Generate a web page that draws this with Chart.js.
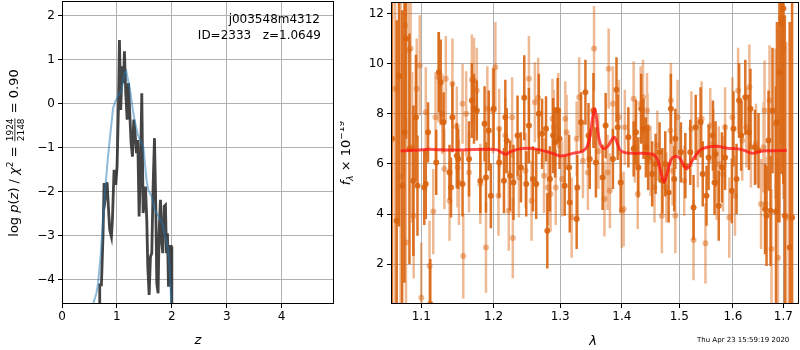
<!DOCTYPE html>
<html>
<head>
<meta charset="utf-8">
<script src="https://cdn.jsdelivr.net/npm/chart.js@4.4.1/dist/chart.umd.min.js"></script>
<style>
  html, body { margin: 0; padding: 0; background: #fff; }
  #wrap { position: relative; width: 800px; height: 350px; overflow: hidden; }
  #pz-chart { position: absolute; left: 0; top: 0; }
  #sp-chart { position: absolute; left: 340px; top: 0; }
</style>
</head>
<body>
<div id="wrap">
  <canvas id="pz-chart" width="340" height="350"></canvas>
  <canvas id="sp-chart" width="460" height="350"></canvas>
</div>
<script>
// ---- left panel: redshift probability ----
var pzZ = [0.675, 0.687, 0.718, 0.748, 0.766, 0.79, 0.821, 0.851, 0.869, 0.9,
  0.918, 0.948, 0.979, 1.003, 1.027, 1.046, 1.07, 1.094, 1.119, 1.137,
  1.161, 1.186, 1.21, 1.234, 1.258, 1.283, 1.307, 1.331, 1.356, 1.38,
  1.404, 1.428, 1.453, 1.477, 1.495, 1.52, 1.544, 1.562, 1.587, 1.611,
  1.635, 1.659, 1.684, 1.708, 1.726, 1.75, 1.768, 1.793, 1.811, 1.835,
  1.86, 1.884, 1.902, 1.92, 1.939, 1.963, 1.987, 2.0];
var pzLog = [-4.9, -4.11, -4.11, -2.94, -1.80, -2.11, -1.78, -2.48, -2.86, -3.02,
  -2.64, -1.50, -1.84, -1.42, -0.14, 1.45, -0.14, 0.85, 0.47, 1.19,
  0.24, -0.36, 0.47, -0.21, -0.89, -1.2, -0.36, -0.67, -1.12, -0.82,
  -2.56, -1.58, 0.24, -2.48, -2.3, -1.88, -2.64, -3.70, -4.34, -3.47,
  -3.39, -1.88, -0.78, -2.33, -4.08, -4.30, -2.94, -2.18, -3.09, -3.39,
  -2.33, -2.30, -3.39, -2.94, -4.15, -3.24, -3.24, -4.9];

var priorZ = [0.54, 0.565, 0.627, 0.656, 0.70, 0.75, 0.79, 0.83, 0.87, 0.93,
  0.97, 1.02, 1.08, 1.14, 1.17, 1.2, 1.23, 1.29, 1.32, 1.38,
  1.42, 1.48, 1.54, 1.57, 1.63, 1.69, 1.78, 1.84, 1.87, 1.90,
  1.93, 1.96, 1.99, 2.01];
var priorLog = [-4.9, -4.55, -4.30, -4.08, -3.5, -2.6, -1.9, -1.3, -0.8, -0.1,
  0.05, 0.17, 0.3, 0.7, 0.75, 0.55, 0.39, -0.14, -0.36, -0.7,
  -0.82, -0.97, -1.73, -1.95, -2.1, -2.41, -2.6, -2.75, -3.0, -3.09,
  -3.3, -3.7, -4.55, -4.9];

var zTicks = [0, 1, 2, 3, 4];
var pzTicks = [-4, -3, -2, -1, 0, 1, 2];

// ---- right panel: spectrum ----
var darkLam = [1.062, 1.068, 1.071, 1.075, 1.078, 1.080, 1.0845, 1.0896, 1.093, 1.095,
  1.104, 1.106, 1.109, 1.112, 1.120, 1.1235, 1.126, 1.130, 1.138, 1.140,
  1.142, 1.148, 1.150, 1.156, 1.165, 1.169, 1.172, 1.176, 1.181, 1.187,
  1.189, 1.193, 1.196, 1.200, 1.208, 1.215, 1.217, 1.219, 1.224, 1.229,
  1.235, 1.240, 1.245, 1.248, 1.252, 1.258, 1.263, 1.267, 1.272, 1.278,
  1.280, 1.284, 1.289, 1.292, 1.296, 1.299, 1.307, 1.314, 1.315, 1.326,
  1.327, 1.333, 1.340, 1.345, 1.347, 1.353, 1.357, 1.368, 1.373, 1.385,
  1.391, 1.393, 1.398, 1.411, 1.420, 1.424, 1.428, 1.433, 1.437, 1.441,
  1.445, 1.452, 1.458, 1.465, 1.470, 1.475, 1.481, 1.485, 1.491, 1.493,
  1.503, 1.511, 1.520, 1.526, 1.530, 1.539, 1.543, 1.550, 1.554, 1.562,
  1.565, 1.567, 1.573, 1.579, 1.585, 1.598, 1.601, 1.607, 1.612, 1.616,
  1.624, 1.631, 1.634, 1.643, 1.650, 1.663, 1.666, 1.670, 1.674, 1.678,
  1.685, 1.687, 1.692, 1.697, 1.700, 1.703, 1.713, 1.718];
var darkFlux = [7.0, 3.73, 9.5, 5.13, 7.26, 11.0, 6.6, 5.33, 7.86, 5.13,
  5.06, 5.2, 7.26, 0.41, 6.06, 9.66, 9.26, 7.66, 5.66, 5.06,
  7.86, 6.33, 6.2, 5.2, 6.2, 8.53, 8.2, 8.13, 5.33, 7.6,
  5.46, 7.33, 4.73, 8.2, 6.06, 5.33, 7.86, 6.93, 5.53, 5.26,
  7.13, 5.86, 8.64, 5.2, 7.53, 5.4, 5.2, 8.0, 7.2, 7.4,
  3.33, 5.4, 7.13, 6.86, 8.13, 7.0, 5.13, 5.86, 4.46, 3.8,
  5.06, 7.66, 8.86, 7.13, 6.2, 8.13, 6.06, 5.46, 7.53, 6.2,
  8.96, 7.46, 5.26, 7.06, 6.6, 7.26, 5.86, 8.2, 7.4, 6.66,
  6.26, 5.6, 6.0, 6.46, 5.33, 6.0, 4.86, 8.2, 5.4, 7.0,
  6.46, 5.93, 6.46, 4.26, 7.46, 7.66, 5.6, 4.73, 6.26, 7.13,
  5.26, 6.4, 4.33, 5.86, 6.26, 4.93, 7.4, 5.4, 8.53, 7.13,
  8.66, 7.26, 8.2, 6.66, 6.53, 4.2, 3.93, 6.93, 4.13, 8.13,
  4.1, 7.66, 9.66, 11.6, 12.2, 3.93, 2.66, 3.86];
var darkErr = [9, 8, 6, 7, 6, 4, 4.6, 3, 2.5, 2.0,
  1.5, 1.4, 1.2, 1.8, 1.3, 1.6, 1.7, 1.2, 1.1, 1.2,
  1.4, 1.3, 1.2, 1.3, 1.5, 1.5, 1.4, 1.2, 1.3, 1.5,
  1.4, 1.6, 1.3, 1.6, 1.4, 1.3, 1.5, 1.3, 1.4, 1.5,
  1.6, 1.4, 1.7, 1.3, 1.5, 1.3, 1.4, 1.6, 1.4, 1.3,
  1.5, 1.3, 1.5, 1.4, 1.3, 1.2, 1.2, 1.3, 1.2, 1.2,
  1.3, 1.2, 1.3, 1.3, 1.2, 1.5, 1.4, 1.3, 1.3, 1.2,
  1.3, 1.3, 1.2, 1.2, 1.1, 1.3, 1.2, 1.4, 1.2, 1.2,
  1.3, 1.3, 1.2, 1.2, 1.3, 1.3, 1.2, 1.4, 1.3, 1.2,
  1.2, 1.3, 1.3, 1.3, 1.3, 1.4, 1.3, 1.2, 1.3, 1.4,
  1.3, 1.3, 1.4, 1.4, 1.3, 1.3, 1.5, 1.4, 1.5, 1.4,
  1.5, 1.5, 1.6, 1.5, 1.5, 1.8, 2.0, 2.0, 2.2, 2.5,
  5, 4, 6, 6, 7, 8, 9, 9];

var lightLam = [1.066, 1.073, 1.079, 1.080, 1.0835, 1.086, 1.088, 1.090, 1.094, 1.098,
  1.100, 1.106, 1.111, 1.116, 1.119, 1.123, 1.128, 1.131, 1.133, 1.138,
  1.142, 1.148, 1.149, 1.151, 1.156, 1.157, 1.161, 1.165, 1.169, 1.172,
  1.176, 1.181, 1.189, 1.191, 1.199, 1.2025, 1.207, 1.208, 1.217, 1.222,
  1.227, 1.228, 1.237, 1.247, 1.252, 1.256, 1.261, 1.266, 1.275, 1.281,
  1.285, 1.288, 1.290, 1.293, 1.297, 1.303, 1.308, 1.310, 1.318, 1.326,
  1.330, 1.336, 1.344, 1.354, 1.361, 1.371, 1.376, 1.378, 1.380, 1.385,
  1.395, 1.400, 1.403, 1.405, 1.420, 1.422, 1.427, 1.432, 1.436, 1.443,
  1.444, 1.449, 1.456, 1.461, 1.469, 1.477, 1.484, 1.485, 1.488, 1.493,
  1.497, 1.509, 1.522, 1.526, 1.534, 1.541, 1.548, 1.557, 1.563, 1.569,
  1.573, 1.581, 1.585, 1.593, 1.599, 1.604, 1.610, 1.618, 1.626, 1.632,
  1.635, 1.645, 1.655, 1.660, 1.662, 1.664, 1.672, 1.676, 1.684, 1.689,
  1.695, 1.700, 1.706];
var lightFlux = [9.0, 5.5, 11.53, 2.86, 10.53, 10.6, 6.66, 3.93, 9.0, 9.93,
  0.66, 8.06, 1.93, 4.1, 7.86, 9.46, 8.0, 5.8, 9.4, 4.53,
  9.2, 7.49, 5.86, 5.26, 8.4, 2.33, 8.0, 5.66, 9.36, 9.33,
  8.93, 5.2, 2.66, 8.2, 8.13, 9.86, 4.73, 7.4, 7.13, 4.13,
  7.86, 3.04, 5.46, 5.73, 9.4, 4.53, 8.46, 8.64, 5.53, 5.06,
  4.8, 7.8, 7.46, 5.06, 8.13, 5.4, 7.8, 7.26, 3.86, 7.0,
  8.66, 6.13, 5.66, 10.6, 6.5, 4.6, 5.66, 9.8, 4.93, 8.4,
  7.86, 4.13, 4.2, 7.46, 8.6, 6.66, 4.8, 8.4, 8.66, 8.13,
  7.4, 6.13, 5.06, 6.73, 3.93, 5.06, 7.33, 8.53, 5.73, 3.93,
  7.86, 5.33, 7.4, 2.96, 6.46, 7.8, 2.83, 7.53, 6.8, 5.26,
  6.0, 5.6, 7.46, 3.86, 7.86, 4.73, 8.93, 6.93, 7.46, 9.06,
  6.66, 6.8, 4.4, 6.66, 8.13, 4.4, 8.53, 2.6, 7.6, 2.26,
  11.8, 10.6, 3.86];
var lightErr = [9, 8, 6, 5, 4, 4, 3, 2.5, 2.0, 2.0,
  2.2, 1.8, 1.8, 1.7, 1.8, 1.8, 1.6, 1.6, 1.7, 1.6,
  1.8, 1.6, 1.6, 1.7, 1.6, 1.7, 1.7, 1.6, 1.8, 1.7,
  1.7, 1.6, 1.8, 1.7, 1.7, 1.8, 1.6, 1.6, 1.5, 1.6,
  1.6, 1.6, 1.6, 1.5, 1.7, 1.6, 1.6, 1.6, 1.5, 1.5,
  1.5, 1.6, 1.5, 1.5, 1.5, 1.5, 1.5, 1.5, 1.6, 1.5,
  1.6, 1.5, 1.5, 1.7, 1.5, 1.5, 1.5, 1.6, 1.5, 1.5,
  1.5, 1.5, 1.5, 1.5, 1.5, 1.4, 1.4, 1.5, 1.5, 1.5,
  1.4, 1.4, 1.4, 1.4, 1.5, 1.4, 1.4, 1.5, 1.4, 1.5,
  1.5, 1.4, 1.5, 1.6, 1.4, 1.5, 1.6, 1.5, 1.4, 1.5,
  1.5, 1.5, 1.6, 1.6, 1.6, 1.6, 1.7, 1.6, 1.6, 1.7,
  1.6, 1.6, 1.8, 1.8, 2.0, 1.9, 2.2, 2.4, 3, 4,
  5, 6, 7];

var modelLam = [1.073, 1.09, 1.11, 1.13, 1.15, 1.17, 1.19, 1.205, 1.212, 1.218,
  1.224, 1.235, 1.25, 1.265, 1.28, 1.29, 1.30, 1.31, 1.32, 1.335,
  1.343, 1.348, 1.352, 1.355, 1.358, 1.362, 1.367, 1.372, 1.378, 1.384,
  1.388, 1.392, 1.397, 1.405, 1.42, 1.44, 1.455, 1.462, 1.468, 1.473,
  1.478, 1.485, 1.492, 1.50, 1.507, 1.513, 1.519, 1.527, 1.54, 1.555,
  1.57, 1.59, 1.61, 1.625, 1.632, 1.64, 1.65, 1.665, 1.68, 1.695, 1.707];
var modelFlux = [6.52, 6.54, 6.58, 6.56, 6.55, 6.57, 6.58, 6.56, 6.45, 6.38,
  6.48, 6.58, 6.62, 6.58, 6.48, 6.40, 6.32, 6.35, 6.42, 6.5,
  6.7, 7.2, 7.9, 8.2, 7.8, 7.0, 6.65, 6.62, 6.75, 7.0,
  7.06, 6.85, 6.55, 6.45, 6.42, 6.42, 6.36, 6.15, 5.6, 5.26,
  5.6, 6.15, 6.3, 6.25, 6.0, 5.8, 5.95, 6.25, 6.58, 6.68,
  6.70, 6.62, 6.60, 6.52, 6.45, 6.43, 6.48, 6.52, 6.52, 6.53, 6.53];

var lamTicks = [1.1, 1.2, 1.3, 1.4, 1.5, 1.6, 1.7];
var fluxTicks = [2, 4, 6, 8, 10, 12];

Chart.defaults.font.family = "'DejaVu Sans', sans-serif";
Chart.defaults.font.size = 12;
Chart.defaults.color = "#000";

function minusFmt(v) {
  return v < 0 ? "\u2212" + Math.abs(v) : String(v);
}

function errSegments(lam, flux, err) {
  var pts = [];
  lam.forEach(function (l, i) {
    pts.push({ x: l, y: flux[i] - err[i] });
    pts.push({ x: l, y: flux[i] + err[i] });
    pts.push({ x: l, y: null });
  });
  return pts;
}

function xy(xs, ys) {
  return xs.map(function (x, i) { return { x: x, y: ys[i] }; });
}

// keep tick labels from pushing the plot area in
function noPadX(h) {
  return function (s) { s.height = h; s.paddingLeft = 0; s.paddingRight = 0; };
}
function noPadY(w) {
  return function (s) { s.width = w; s.paddingTop = 0; s.paddingBottom = 0; };
}

// full box like matplotlib spines
const framePlugin = {
  id: "frame",
  afterDraw(chart) {
    const a = chart.chartArea, c = chart.ctx;
    c.save();
    c.strokeStyle = "#000";
    c.lineWidth = 1;
    c.strokeRect(Math.round(a.left) + 0.5, Math.round(a.top) + 0.5,
      Math.round(a.right - a.left) - 1, Math.round(a.bottom - a.top) - 1);
    c.restore();
  },
};

// draws a row of text pieces, centred on 0
function drawPieces(c, pieces) {
  var total = 0;
  pieces.forEach(function (p) {
    c.font = p.font;
    p.w = p.frac ? Math.max(c.measureText(p.top).width, c.measureText(p.bot).width) + 2 : c.measureText(p.t).width;
    total += p.w;
  });
  var x = -total / 2;
  pieces.forEach(function (p) {
    c.font = p.font;
    if (p.frac) {
      c.textAlign = "center";
      c.fillText(p.top, x + p.w / 2, -5);
      c.fillText(p.bot, x + p.w / 2, 6);
      c.fillRect(x + 1, -3.5, p.w - 2, 0.8);
      c.textAlign = "left";
    } else {
      c.fillText(p.t, x, p.dy || 0);
    }
    x += p.w;
  });
}

const pzText = {
  id: "pzText",
  afterDraw(chart) {
    const c = chart.ctx;
    const reg = "13px 'DejaVu Sans'", it = "italic 13px 'DejaVu Sans'", sm = "9px 'DejaVu Sans'";
    c.save();
    c.fillStyle = "#000";
    c.textBaseline = "alphabetic";
    c.textAlign = "right";
    c.font = "12px 'DejaVu Sans'";
    c.fillText("j003548m4312", 320, 23);
    c.fillText("ID=2333   z=1.0649", 321, 39);
    c.textAlign = "center";
    c.font = it;
    c.fillText("z", 198, 344);
    c.textAlign = "left";
    c.translate(18, 153);
    c.rotate(-Math.PI / 2);
    drawPieces(c, [
      { t: "log ", font: reg },
      { t: "p", font: it },
      { t: "(", font: reg },
      { t: "z", font: it },
      { t: ") / ", font: reg },
      { t: "\u03c7", font: it },
      { t: "2", font: sm, dy: -5 },
      { t: " = ", font: reg },
      { frac: true, top: "1924", bot: "2148", font: sm },
      { t: " = 0.90", font: reg },
    ]);
    c.restore();
  },
};

const spText = {
  id: "spText",
  afterDraw(chart) {
    const c = chart.ctx;
    const reg = "13px 'DejaVu Sans'", it = "italic 13px 'DejaVu Sans'", sm = "9px 'DejaVu Sans'", smi = "italic 9px 'DejaVu Sans'";
    c.save();
    c.fillStyle = "#000";
    c.textBaseline = "alphabetic";
    c.textAlign = "center";
    c.font = it;
    c.fillText("\u03bb", 253, 345);
    c.textAlign = "left";
    c.font = "7px 'DejaVu Sans'";
    c.fillText("Thu Apr 23 15:59:19 2020", 357, 342);
    c.translate(10, 153);
    c.rotate(-Math.PI / 2);
    drawPieces(c, [
      { t: "f", font: it },
      { t: "\u03bb", font: smi, dy: 3 },
      { t: " \u00d7 10", font: reg },
      { t: "\u221219", font: sm, dy: -6 },
    ]);
    c.restore();
  },
};

const gridStyle = { color: "#b0b0b0", lineWidth: 1, tickColor: "#000", tickLength: 4 };

new Chart(document.getElementById("pz-chart"), {
  type: "line",
  data: {
    datasets: [
      {
        label: "prior",
        data: xy(priorZ, priorLog),
        borderColor: "rgba(31,119,180,0.5)",
        borderWidth: 2,
        pointRadius: 0,
        order: 0,
      },
      {
        label: "p(z)",
        data: xy(pzZ, pzLog),
        borderColor: "rgba(35,35,35,0.85)",
        borderWidth: 2.8,
        pointRadius: 0,
        order: 1,
      },
    ],
  },
  options: {
    responsive: false,
    animation: false,
    events: [],
    layout: { autoPadding: false, padding: { top: 1, right: 6, left: 0, bottom: 0 } },
    plugins: { legend: { display: false }, tooltip: { enabled: false } },
    scales: {
      x: {
        type: "linear", min: 0, max: 4.953,
        afterBuildTicks: (s) => { s.ticks = zTicks.map((v) => ({ value: v })); },
        afterFit: noPadX(46),
        grid: gridStyle, border: { display: false },
        ticks: { padding: 2, maxRotation: 0, autoSkip: false, font: { size: 12 }, callback: minusFmt },
      },
      y: {
        type: "linear", min: -4.545, max: 2.334,
        afterBuildTicks: (s) => { s.ticks = pzTicks.map((v) => ({ value: v })); },
        afterFit: noPadY(62),
        grid: gridStyle, border: { display: false },
        ticks: { padding: 3, autoSkip: false, font: { size: 12 }, callback: minusFmt },
      },
    },
  },
  plugins: [framePlugin, pzText],
});

new Chart(document.getElementById("sp-chart"), {
  type: "line",
  data: {
    datasets: [
      {
        label: "model",
        data: xy(modelLam, modelFlux),
        borderColor: "rgba(255,20,20,0.75)",
        borderWidth: 3,
        pointRadius: 0,
        tension: 0.3,
        order: 0,
      },
      {
        label: "dark",
        data: xy(darkLam, darkFlux),
        showLine: false,
        pointRadius: 3,
        pointBackgroundColor: "rgba(217,100,15,0.9)",
        pointBorderWidth: 0,
        order: 1,
      },
      {
        label: "dark err",
        data: errSegments(darkLam, darkFlux, darkErr),
        borderColor: "rgba(217,100,15,0.9)",
        borderWidth: 2.5,
        pointRadius: 0,
        spanGaps: false,
        order: 2,
      },
      {
        label: "light",
        data: xy(lightLam, lightFlux),
        showLine: false,
        pointRadius: 3,
        pointBackgroundColor: "rgba(217,100,15,0.45)",
        pointBorderWidth: 0,
        order: 3,
      },
      {
        label: "light err",
        data: errSegments(lightLam, lightFlux, lightErr),
        borderColor: "rgba(217,100,15,0.45)",
        borderWidth: 2.5,
        pointRadius: 0,
        spanGaps: false,
        order: 4,
      },
    ],
  },
  options: {
    responsive: false,
    animation: false,
    events: [],
    layout: { autoPadding: false, padding: { top: 2, right: 1, left: 0, bottom: 0 } },
    plugins: { legend: { display: false }, tooltip: { enabled: false } },
    scales: {
      x: {
        type: "logarithmic", min: 1.0607, max: 1.7323,
        afterBuildTicks: (s) => { s.ticks = lamTicks.map((v) => ({ value: v })); },
        afterFit: noPadX(46),
        grid: gridStyle, border: { display: false },
        ticks: { padding: 2, maxRotation: 0, autoSkip: false, font: { size: 12 }, callback: (v) => Number(v).toFixed(1) },
      },
      y: {
        type: "linear", min: 0.41, max: 12.46,
        afterBuildTicks: (s) => { s.ticks = fluxTicks.map((v) => ({ value: v })); },
        afterFit: noPadY(51),
        grid: gridStyle, border: { display: false },
        ticks: { padding: 3, autoSkip: false, font: { size: 12 }, callback: minusFmt },
      },
    },
  },
  plugins: [framePlugin, spText],
});
</script>
</body>
</html>
